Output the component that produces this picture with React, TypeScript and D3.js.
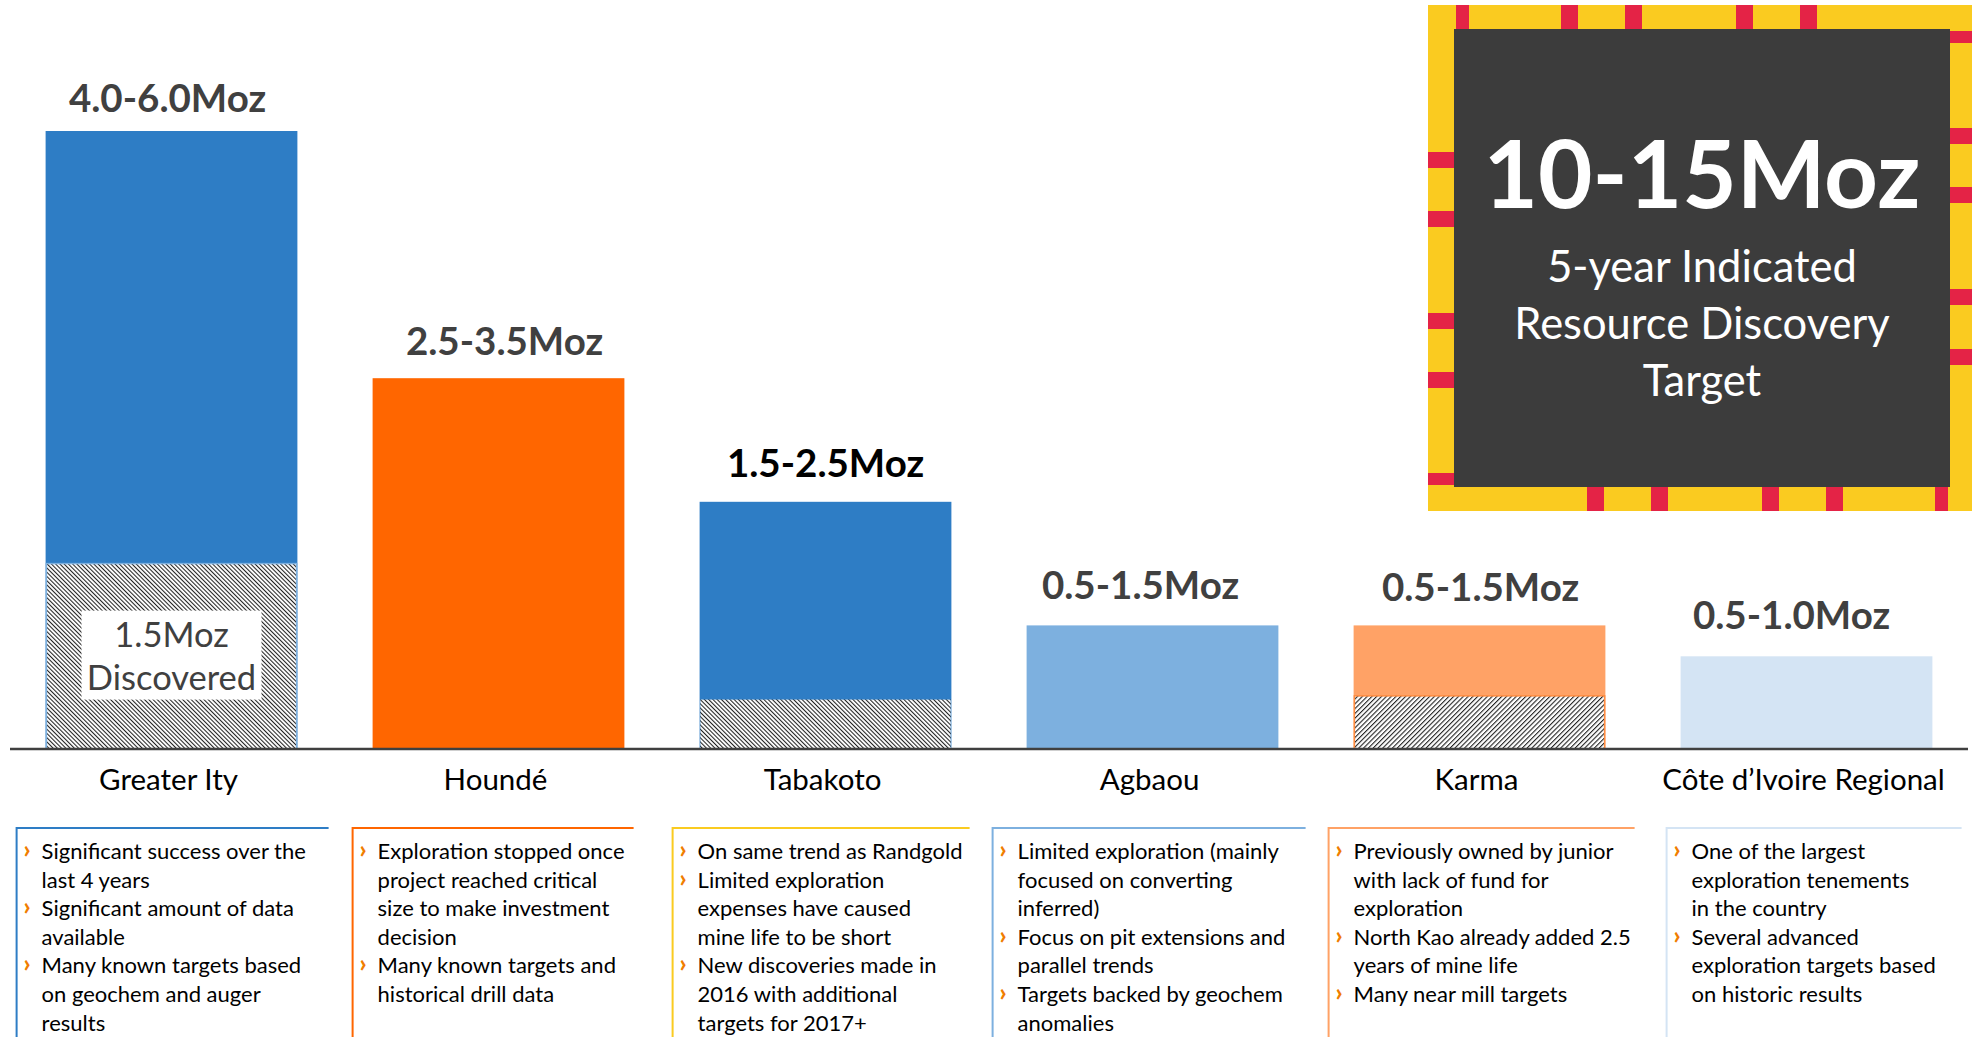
import React from "react";
import * as d3 from "d3";

// ---------- data ----------
const categories = ["Greater Ity", "Houndé", "Tabakoto", "Agbaou", "Karma", "Côte d’Ivoire Regional"];
// bar height = midpoint of the target range (Moz)
const targetMid = [5.0, 3.0, 2.0, 1.0, 1.0, 0.75];
// already discovered portion (hatched), Moz
const discovered = [1.5, 0, 0.4, 0, 0.43, 0];
const rangeLabels = ["4.0-6.0Moz", "2.5-3.5Moz", "1.5-2.5Moz", "0.5-1.5Moz", "0.5-1.5Moz", "0.5-1.0Moz"];
const discoveredNote = ["1.5Moz", "Discovered"];
const headline = "10-15Moz";
const headlineSub = ["5-year Indicated", "Resource Discovery", "Target"];

const notes: string[][][] = [
  [["Significant success over the", "last 4 years"], ["Significant amount of data", "available"], ["Many known targets based", "on geochem and auger", "results"]],
  [["Exploration stopped once", "project reached critical", "size to make investment", "decision"], ["Many known targets and", "historical drill data"]],
  [["On same trend as Randgold"], ["Limited exploration", "expenses have caused", "mine life to be short"], ["New discoveries made in", "2016 with additional", "targets for 2017+"]],
  [["Limited exploration (mainly", "focused on converting", "inferred)"], ["Focus on pit extensions and", "parallel trends"], ["Targets backed by geochem", "anomalies"]],
  [["Previously owned by junior", "with lack of fund for", "exploration"], ["North Kao already added 2.5", "years of mine life"], ["Many near mill targets"]],
  [["One of the largest", "exploration tenements", "in the country"], ["Several advanced", "exploration targets based", "on historic results"]],
];

// ---------- styles ----------
const barColors = ["#2E7DC5", "#FF6600", "#2E7DC5", "#7DB0DF", "#FFA266", "#D4E4F4"];
const hatchStroke = ["#7DB0DF", "none", "none", "none", "#FF8C40", "none"];
const hatchPattern = ["hatchDown", "", "hatchDown", "", "hatchUp", ""];
const boxColors = ["#2E7DC5", "#FF6600", "#FACB20", "#7DB0DF", "#FFA266", "#D4E4F4"];
const labelColors = ["#404040", "#404040", "#000000", "#404040", "#404040", "#404040"];
const labelNudgeX = [-4, 6, 0, -12, 1, -15];
const labelGap = [19, 23, 25, 26, 24, 27];
const boxNudgeX = [-2, 7, 0, -7, 2, 13];
const boxWidthAdj = [2, -29, -13, 3, -4, -15];
const FONT = "Lato, 'Open Sans', sans-serif";

// decoration of the target badge (dashed red accents on yellow frame)
const redTop = [1456, 1561, 1625, 1736, 1800];
const redBottom = [1587, 1651, 1762, 1826, 1935];
const redLeft = [152, 211, 313, 372, 473];
const redRight = [31, 128, 187, 289, 349];

export default function App() {
  const W = 1972;
  const H = 1037;
  const baseY = 749;

  const x = d3
    .scaleBand<string>()
    .domain(categories)
    .range([8, 1970])
    .paddingInner(0.23)
    .paddingOuter(0.115);
  const y = d3.scaleLinear().domain([0, 5]).range([baseY, 131]);
  const bw = x.bandwidth();
  const step = x.step();

  // badge geometry
  const bx0 = 1428, by0 = 5, bx1 = 1972, by1 = 511;
  const dx0 = 1454, dy0 = 29, dx1 = 1950, dy1 = 487;
  const dcx = (dx0 + dx1) / 2;

  const lineH = 28.6;
  const noteTop = 828;

  return (
    <div>
      <style>{`body{margin:0;overflow:hidden;background:#fff}`}</style>
      <svg width={W} height={H} viewBox={`0 0 ${W} ${H}`} style={{ display: "block" }}>
        <defs>
          <pattern id="hatchDown" patternUnits="userSpaceOnUse" width={3} height={3} patternTransform="rotate(-45)">
            <rect x={0} y={0} width={3} height={3} fill="#fff" />
            <rect x={0} y={0} width={1.05} height={3} fill="#222" />
          </pattern>
          <pattern id="hatchUp" patternUnits="userSpaceOnUse" width={3.4} height={3.4} patternTransform="rotate(45)">
            <rect x={0} y={0} width={3.4} height={3.4} fill="#fff" />
            <rect x={0} y={0} width={1.1} height={3.4} fill="#222" />
          </pattern>
        </defs>

        {/* bars */}
        {categories.map((c, i) => {
          const x0 = x(c)!;
          const yTop = y(targetMid[i]);
          return (
            <g key={c}>
              <rect x={x0} y={yTop} width={bw} height={baseY - yTop} fill={barColors[i]} />
              {discovered[i] > 0 && (
                <rect
                  x={x0 + 0.75}
                  y={y(discovered[i])}
                  width={bw - 1.5}
                  height={baseY - y(discovered[i])}
                  fill={`url(#${hatchPattern[i]})`}
                  stroke={hatchStroke[i]}
                  strokeWidth={1.5}
                />
              )}
              <text
                x={x0 + bw / 2 + labelNudgeX[i]}
                y={yTop - labelGap[i]}
                textAnchor="middle"
                fontFamily={FONT}
                fontWeight={700}
                fontSize={38.5}
                fill={labelColors[i]}
              >
                {rangeLabels[i]}
              </text>
            </g>
          );
        })}

        {/* discovered note on Greater Ity */}
        {(() => {
          const c = categories[0];
          const cx = x(c)! + bw / 2;
          const yTop = y(discovered[0]);
          return (
            <g>
              <rect x={cx - 90} y={yTop + 47} width={180} height={89} fill="#fff" />
              {discoveredNote.map((t, k) => (
                <text
                  key={t}
                  x={cx}
                  y={yTop + 83 + k * 43}
                  textAnchor="middle"
                  fontFamily={FONT}
                  fontSize={34.5}
                  fill="#404040"
                >
                  {t}
                </text>
              ))}
            </g>
          );
        })()}

        {/* baseline axis */}
        <line x1={10} x2={1968} y1={baseY} y2={baseY} stroke="#404040" strokeWidth={2.5} />
        {categories.map((c) => (
          <text
            key={c + "-lab"}
            x={x(c)! + bw / 2 - 3}
            y={790}
            textAnchor="middle"
            fontFamily={FONT}
            fontSize={29.5}
            fill="#000"
          >
            {c}
          </text>
        ))}

        {/* note boxes */}
        {categories.map((c, i) => {
          const left = x(c)! - 27 + boxNudgeX[i];
          const width = step - 17 + boxWidthAdj[i];
          let row = 0;
          const els: React.ReactNode[] = [];
          notes[i].forEach((bullet, b) => {
            bullet.forEach((ln, k) => {
              const yy = noteTop + 31 + row * lineH;
              if (k === 0) {
                els.push(
                  <text key={`b${b}`} x={left + 7} y={yy - 1} fontFamily={FONT} fontWeight={900} fontSize={24} fill="#F07D00">
                    ›
                  </text>
                );
              }
              els.push(
                <text key={`t${b}-${k}`} x={left + 25} y={yy} fontFamily={FONT} fontSize={22} fill="#000">
                  {ln}
                </text>
              );
              row++;
            });
          });
          return (
            <g key={c + "-note"}>
              <path
                d={`M${left},${H + 2}V${noteTop}H${left + width}`}
                fill="none"
                stroke={boxColors[i]}
                strokeWidth={2}
              />
              {els}
            </g>
          );
        })}

        {/* target badge */}
        <rect x={bx0} y={by0} width={bx1 - bx0} height={by1 - by0} fill="#FACB20" />
        {redTop.map((v, k) => (
          <rect key={"rt" + k} x={v} y={by0} width={k === 0 ? 13 : 17} height={dy0 - by0} fill="#E42346" />
        ))}
        {redBottom.map((v, k) => (
          <rect key={"rb" + k} x={v} y={dy1} width={k === 4 ? 13 : 17} height={by1 - dy1} fill="#E42346" />
        ))}
        {redLeft.map((v, k) => (
          <rect key={"rl" + k} x={bx0} y={v} width={dx0 - bx0} height={k === 4 ? 12 : 16} fill="#E42346" />
        ))}
        {redRight.map((v, k) => (
          <rect key={"rr" + k} x={dx1} y={v} width={bx1 - dx1} height={k === 0 ? 12 : 16} fill="#E42346" />
        ))}
        <rect x={dx0} y={dy0} width={dx1 - dx0} height={dy1 - dy0} fill="#3C3C3C" />
        <text x={dcx} y={208} textAnchor="middle" fontFamily={FONT} fontWeight={700} fontSize={94} fill="#fff">
          {headline}
        </text>
        {headlineSub.map((t, k) => (
          <text
            key={t}
            x={dcx}
            y={282 + k * 57}
            textAnchor="middle"
            fontFamily={FONT}
            fontSize={43.5}
            fill="#fff"
          >
            {t}
          </text>
        ))}
      </svg>
    </div>
  );
}
